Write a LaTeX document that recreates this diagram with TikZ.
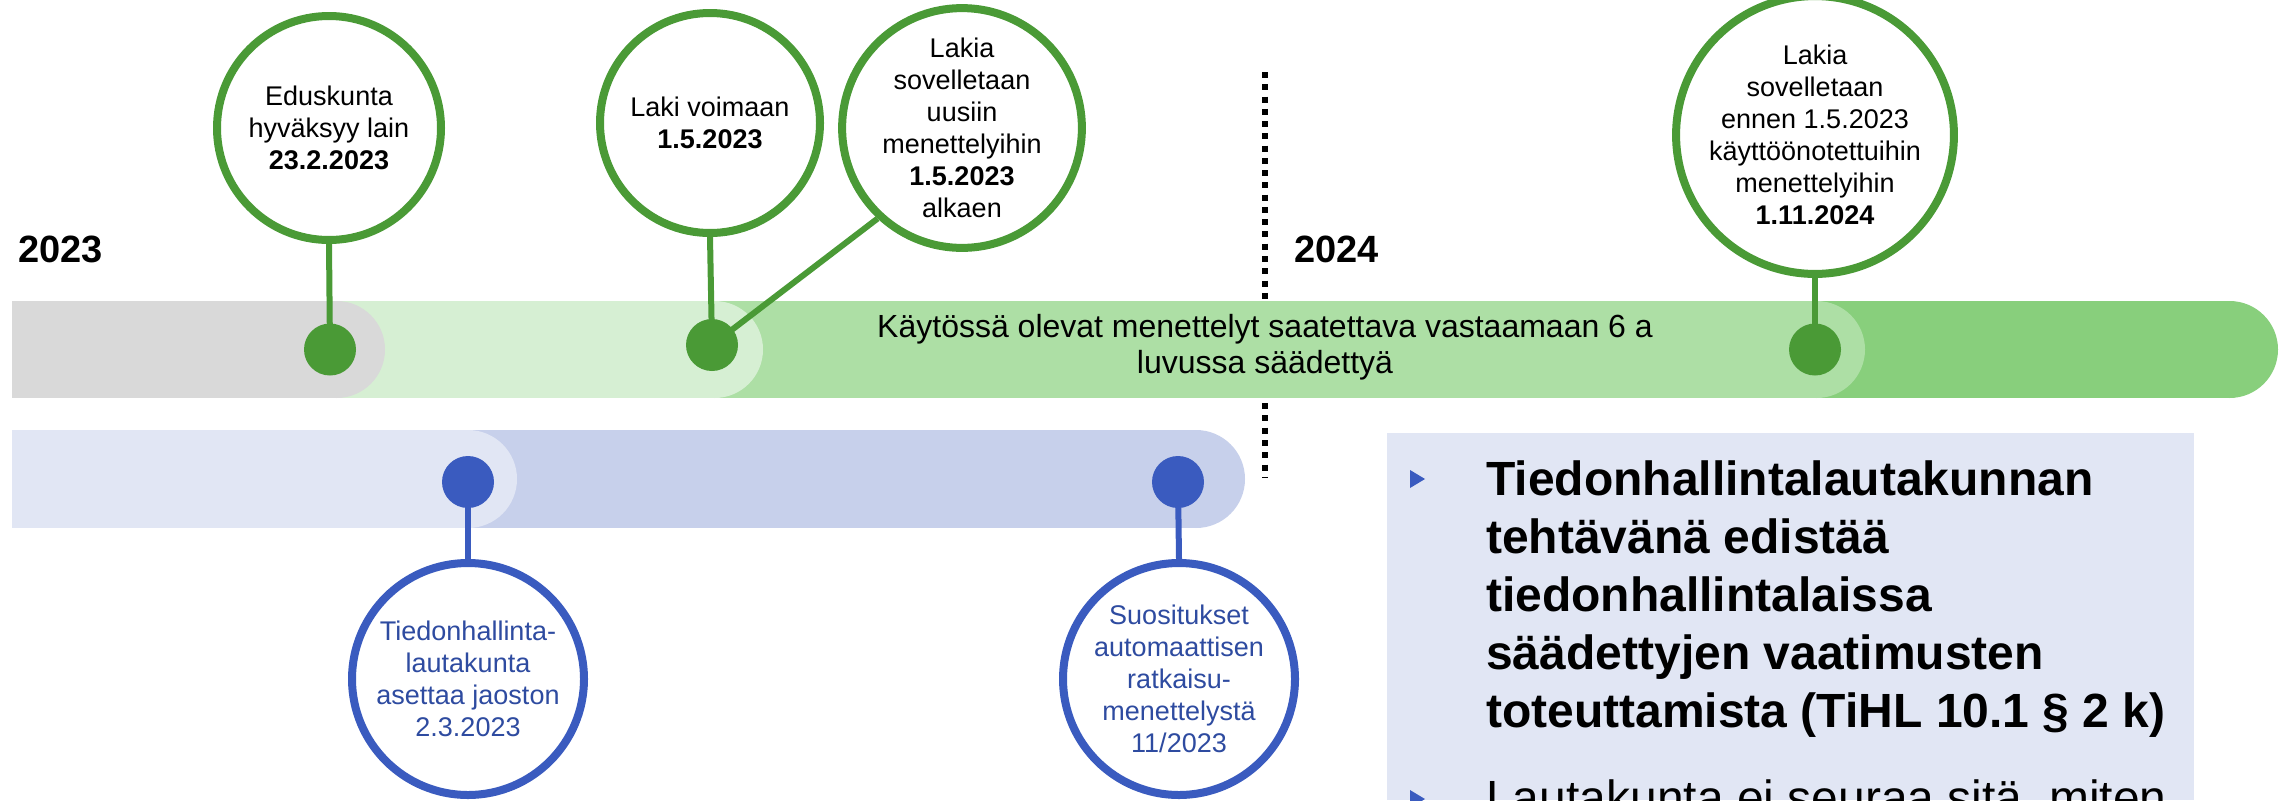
\documentclass[tikz,border=0pt]{standalone}
\usepackage{fontspec}
\setmainfont{Liberation Sans}
\definecolor{grn}{HTML}{4A9A36}
\definecolor{barGray}{HTML}{D9D9D9}
\definecolor{barG1}{HTML}{D6EFD3}
\definecolor{barG2}{HTML}{ADDFA5}
\definecolor{barG3}{HTML}{88CF7C}
\definecolor{barB1}{HTML}{E1E6F4}
\definecolor{barB2}{HTML}{C7D0EB}
\definecolor{blu}{HTML}{3A5BBF}
\definecolor{bluText}{HTML}{2E4BA0}
\definecolor{panelBg}{HTML}{E1E6F4}
\newcommand\circtext{\fontsize{20.25pt}{24pt}\selectfont}
\newcommand\bartext{\fontsize{24pt}{27pt}\selectfont}
\newcommand\yeartext{\fontsize{28.5pt}{34pt}\selectfont\bfseries}
\newcommand\paneltext{\fontsize{36pt}{43.5pt}\selectfont}
\pgfdeclarelayer{back}
\pgfdeclarelayer{conn}
\pgfsetlayers{back,conn,main}
\begin{document}
\begin{tikzpicture}[x=0.75pt,y=-0.75pt,
  event/.style={circle, draw=grn, line width=6pt, fill=white, inner sep=0pt,
    align=center, font=\circtext, text=black},
  blueevent/.style={event, draw=blu, text=bluText},
  gdot/.style={circle, fill=grn, minimum size=39pt, inner sep=0pt},
  bdot/.style={circle, fill=blu, minimum size=39pt, inner sep=0pt},
  stem/.style={line width=4.5pt, draw=grn},
  bstem/.style={line width=4.5pt, draw=blu},
  year/.style={anchor=base west, inner sep=0pt, font=\yeartext},
  pline/.style={anchor=base west, inner sep=0pt, font=\paneltext},
]
\useasboundingbox (0,0) rectangle (2287,800);
\clip (0,0) rectangle (2287,800);

\begin{pgfonlayer}{back}
% year divider
\coordinate (sepTop) at (1265,72);
\coordinate (sepBot) at (1265,478);
\draw[line width=4.5pt, dash pattern=on 4.5pt off 4.7pt] (sepTop) -- (sepBot);

% upper timeline bar: segments with rounded right ends, drawn back to front
\foreach \xe/\c in {2278/barG3, 1865/barG2, 763/barG1, 385/barGray}{
  \fill[\c] (12,301) rectangle (\xe-48.5,398);
  \fill[\c] (\xe-48.5,349.5) circle[radius=36.375pt];
}
% lower timeline bar
\foreach \xe/\c in {1245/barB2, 517/barB1}{
  \fill[\c] (12,430) rectangle (\xe-49,528);
  \fill[\c] (\xe-49,479) circle[radius=36.75pt];
}

% side panel
\fill[panelBg] (1387,433) rectangle (2194,800);
\fill[blu] (1410,470) -- (1425,479) -- (1410,488) -- cycle;
\fill[blu] (1410,790) -- (1425,799) -- (1410,808) -- cycle;
\end{pgfonlayer}

\node[pline, font=\paneltext\bfseries] (p1) at (1486,495) {Tiedonhallintalautakunnan};
\node[pline, font=\paneltext\bfseries] (p2) at (1486,553) {tehtävänä edistää};
\node[pline, font=\paneltext\bfseries] (p3) at (1486,611) {tiedonhallintalaissa};
\node[pline, font=\paneltext\bfseries] (p4) at (1486,669) {säädettyjen vaatimusten};
\node[pline, font=\paneltext\bfseries] (p5) at (1486,727) {toteuttamista (TiHL 10.1 § 2 k)};
\node[pline] (q1) at (1486,814) {Lautakunta ei seuraa sitä, miten};

% year labels
\node[year] (y23) at (18,262) {2023};
\node[year] (y24) at (1294,262) {2024};

% bar caption
\node[align=center, font=\bartext, inner sep=0pt] (cap) at (1265,347)
  {Käytössä olevat menettelyt saatettava vastaamaan 6 a\\luvussa säädettyä};

% event markers
\node[gdot] (d1) at (330,349.5) {};
\node[gdot] (d2) at (712,345) {};
\node[gdot] (d3) at (1815,349.5) {};
\node[bdot] (d4) at (468,482) {};
\node[bdot] (d5) at (1178,482) {};

% event circles
\node[event, minimum size=168pt] (e1) at (329,128)
  {Eduskunta\\hyväksyy lain\\\textbf{23.2.2023}};
\node[event, minimum size=165pt] (e2) at (710,123)
  {Laki voimaan\\\textbf{1.5.2023}};
\node[event, minimum size=169.5pt] (e3) at (962,128)
  {Lakia\\sovelletaan\\uusiin\\menettelyihin\\\textbf{1.5.2023}\\alkaen};
\node[event, minimum size=174pt] (e4) at (1815,135)
  {Lakia\\sovelletaan\\ennen 1.5.2023\\käyttöönotettuihin\\menettelyihin\\\textbf{1.11.2024}};
\node[blueevent, minimum size=174pt] (e5) at (468,679)
  {Tiedonhallinta-\\lautakunta\\asettaa jaoston\\2.3.2023};
\node[blueevent, minimum size=174pt] (e6) at (1179,679)
  {Suositukset\\automaattisen\\ratkaisu-\\menettelystä\\11/2023};

% connectors from markers to circles
\begin{pgfonlayer}{conn}
\draw[stem] (d1.center) -- (e1.south);
\draw[stem] (d2.center) -- (e2.south);
\draw[stem] (d2.center) -- (e3.227);
\draw[stem] (d3.center) -- (e4.south);
\draw[bstem] (d4.center) -- (e5.north);
\draw[bstem] (d5.center) -- (e6.north);
\end{pgfonlayer}
\end{tikzpicture}
\end{document}
